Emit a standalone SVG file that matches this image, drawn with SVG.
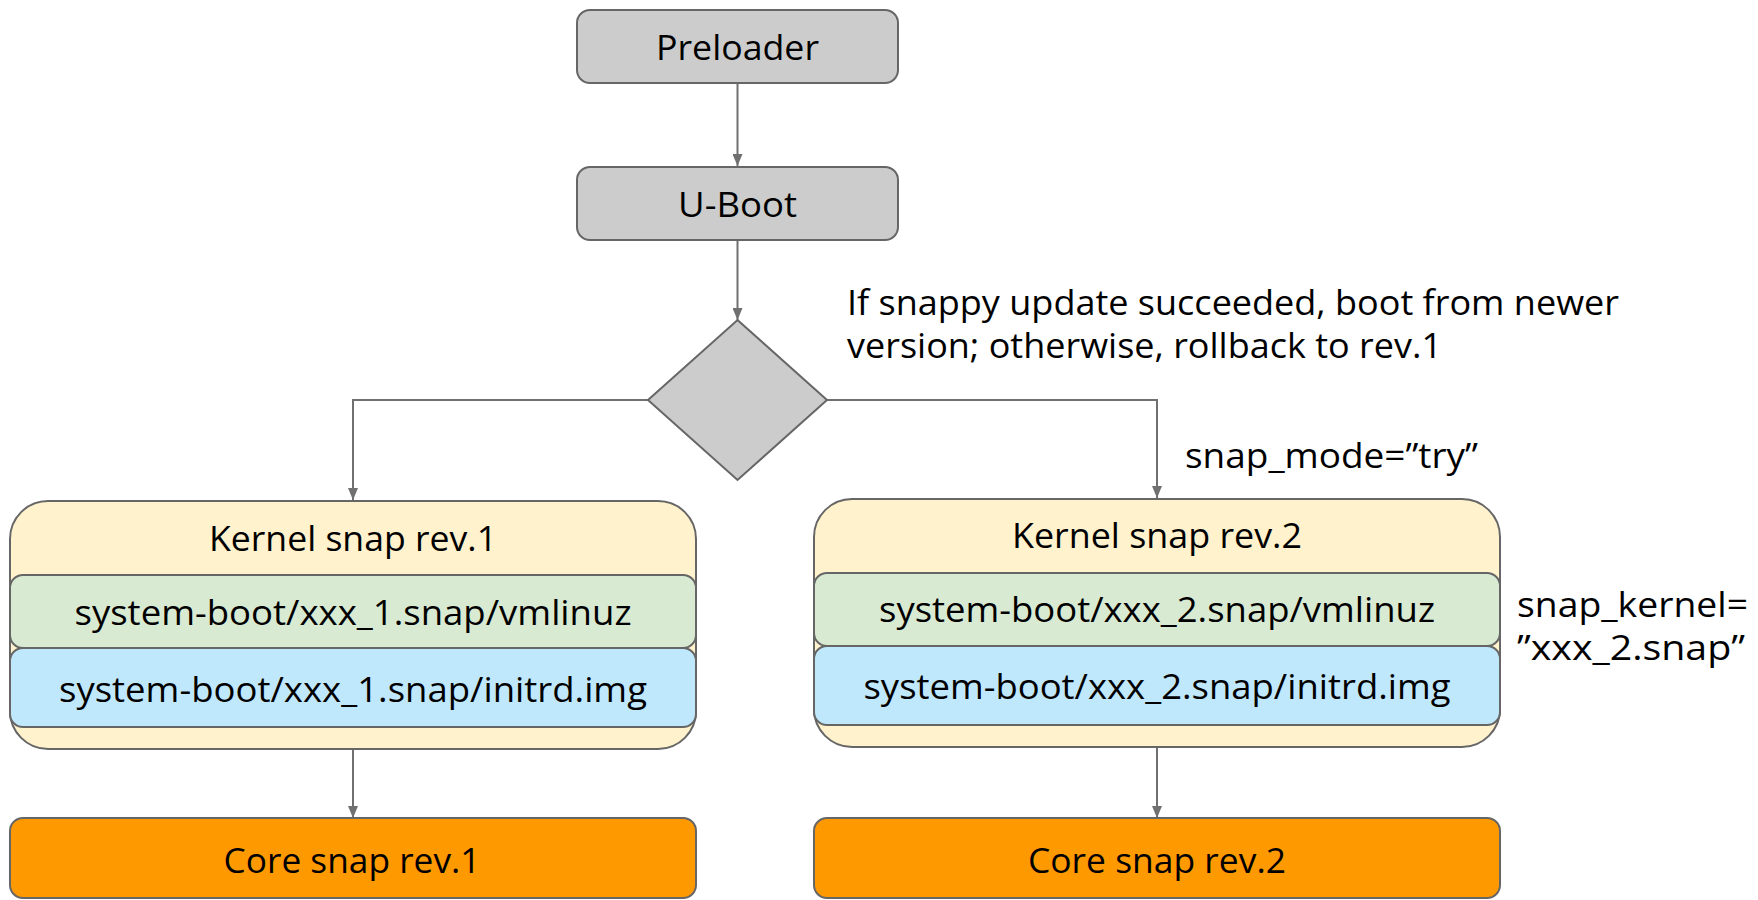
<svg xmlns="http://www.w3.org/2000/svg" width="1758" height="900" viewBox="0 0 1758 900">
<style>
text{font-family:"Open Sans","Noto Sans","Liberation Sans",sans-serif;font-size:35px;fill:#000}
.c{text-anchor:middle}
.gray{fill:#cccccc;stroke:#666666;stroke-width:2}
.kern{fill:#fff2cc;stroke:#666666;stroke-width:2}
.green{fill:#d9ead3;stroke:#666666;stroke-width:2}
.blue{fill:#c0e8fc;stroke:#666666;stroke-width:2}
.core{fill:#ff9900;stroke:#666666;stroke-width:2}
.conn{fill:none;stroke:#707070;stroke-width:2;marker-end:url(#arr)}
</style>
<defs>
<marker id="arr" markerWidth="12" markerHeight="10" refX="12" refY="5" orient="auto" markerUnits="userSpaceOnUse" viewBox="0 0 12 10">
<path d="M0,0 L12,5 L0,10 Z" fill="#707070"/>
</marker>
</defs>
<g id="connectors">
<path class="conn" d="M737.5,83 L737.5,166"/>
<path class="conn" d="M737.5,240 L737.5,320"/>
<path class="conn" d="M648,400 L353,400 L353,500"/>
<path class="conn" d="M827,400 L1157,400 L1157,498"/>
<path class="conn" d="M353,749 L353,818"/>
<path class="conn" d="M1157,747 L1157,818"/>
</g>
<g id="preloader">
<rect class="gray" x="577" y="10" width="321" height="73" rx="13"/>
<text class="c" x="737.5" y="60" textLength="163" lengthAdjust="spacingAndGlyphs">Preloader</text>
</g>
<g id="uboot">
<rect class="gray" x="577" y="167" width="321" height="73" rx="13"/>
<text class="c" x="737.5" y="217" textLength="119" lengthAdjust="spacingAndGlyphs">U-Boot</text>
</g>
<g id="decision">
<polygon class="gray" points="737.5,320 827,400 737.5,480 648,400"/>
</g>
<g id="decision-note">
<text x="847" y="315" textLength="772" lengthAdjust="spacingAndGlyphs">If snappy update succeeded, boot from newer</text>
<text x="847" y="358" textLength="595" lengthAdjust="spacingAndGlyphs">version; otherwise, rollback to rev.1</text>
</g>
<g id="snap-mode-label">
<text x="1185" y="468" textLength="293" lengthAdjust="spacingAndGlyphs">snap_mode=”try”</text>
</g>
<g id="kernel1">
<rect class="kern" x="10" y="501" width="686" height="248" rx="38"/>
<text class="c" x="353" y="551" textLength="288" lengthAdjust="spacingAndGlyphs">Kernel snap rev.1</text>
<rect class="green" x="10" y="575" width="686" height="73" rx="13"/>
<text class="c" x="353" y="625" textLength="557" lengthAdjust="spacingAndGlyphs">system-boot/xxx_1.snap/vmlinuz</text>
<rect class="blue" x="10" y="648" width="686" height="79" rx="13"/>
<text class="c" x="353" y="702" textLength="588" lengthAdjust="spacingAndGlyphs">system-boot/xxx_1.snap/initrd.img</text>
</g>
<g id="kernel2">
<rect class="kern" x="814" y="499" width="686" height="248" rx="38"/>
<text class="c" x="1157" y="548" textLength="290" lengthAdjust="spacingAndGlyphs">Kernel snap rev.2</text>
<rect class="green" x="814" y="573" width="686" height="73" rx="13"/>
<text class="c" x="1157" y="622" textLength="556" lengthAdjust="spacingAndGlyphs">system-boot/xxx_2.snap/vmlinuz</text>
<rect class="blue" x="814" y="646" width="686" height="79" rx="13"/>
<text class="c" x="1157" y="699" textLength="587" lengthAdjust="spacingAndGlyphs">system-boot/xxx_2.snap/initrd.img</text>
</g>
<g id="snap-kernel-label">
<text x="1517" y="617" textLength="231" lengthAdjust="spacingAndGlyphs">snap_kernel=</text>
<text x="1517" y="660" textLength="228" lengthAdjust="spacingAndGlyphs">”xxx_2.snap”</text>
</g>
<g id="core1">
<rect class="core" x="10" y="818" width="686" height="80" rx="13"/>
<text class="c" x="352" y="873" textLength="257" lengthAdjust="spacingAndGlyphs">Core snap rev.1</text>
</g>
<g id="core2">
<rect class="core" x="814" y="818" width="686" height="80" rx="13"/>
<text class="c" x="1157" y="873" textLength="258" lengthAdjust="spacingAndGlyphs">Core snap rev.2</text>
</g>
</svg>
